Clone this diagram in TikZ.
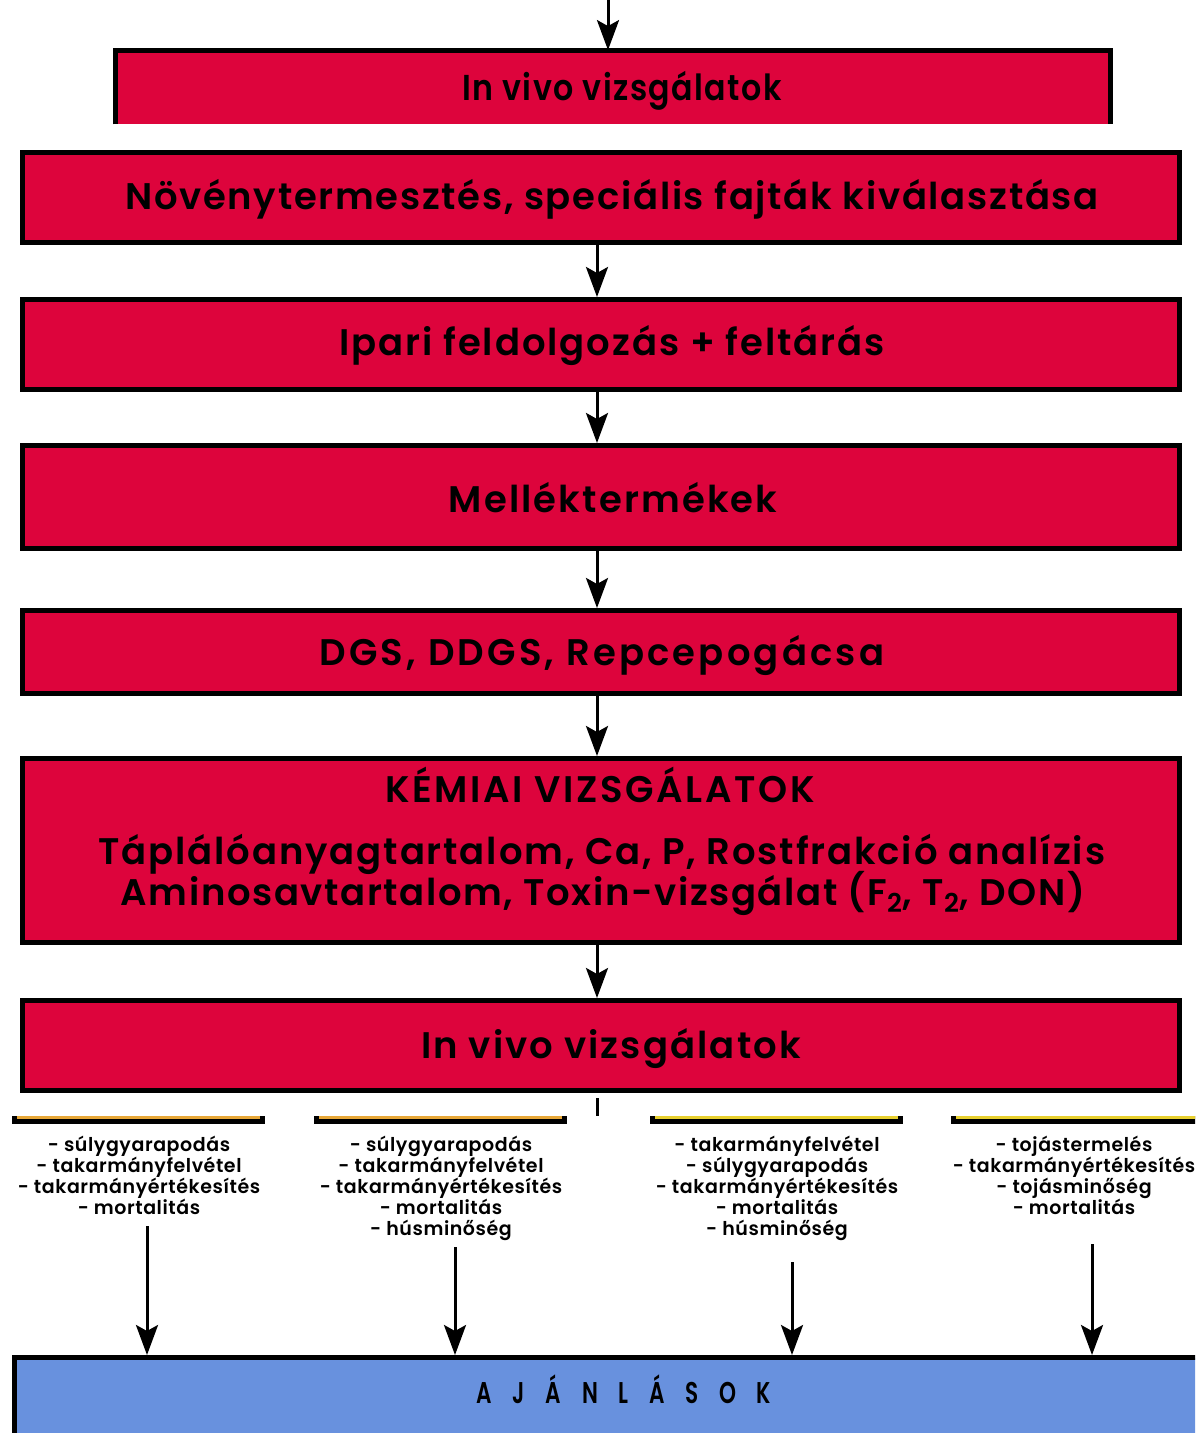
\documentclass[tikz,border=0pt]{standalone}
\usepackage{fontspec}
\setmainfont{Poppins}[BoldFont={Poppins SemiBold}]
\newfontfamily\condfont{Poppins}[FakeStretch=0.72,BoldFont={Poppins SemiBold}]
\newfontfamily\topfont{Poppins}[FakeStretch=0.88,BoldFont={Poppins SemiBold}]
\usetikzlibrary{arrows.meta}
\definecolor{boxred}{RGB}{221,4,60}
\definecolor{boxblue}{RGB}{104,145,222}
\definecolor{barorange}{RGB}{232,168,56}
\definecolor{baryellow}{RGB}{232,208,48}
\newcommand{\lsp}[1]{\addfontfeature{LetterSpace=#1}}
\begin{document}
\begin{tikzpicture}[x=0.5pt,y=-0.5pt,
  redbox/.style={draw=black, line width=2.5pt, fill=boxred, minimum width=578.5pt,
    inner sep=0pt},
  bigtext/.style={inner sep=0pt, font=\bfseries\fontsize{18.5}{22}\selectfont, anchor=base},
  arr/.style={line width=1.5pt, -{Stealth[length=15pt,width=11pt,inset=3pt]}},
  listtext/.style={align=center, font=\bfseries\fontsize{9.5}{10.4}\selectfont\lsp{3},
    anchor=north, inner sep=0pt},
  barblack/.style={fill=black}]
\clip (0,0) rectangle (1195,1433);
\fill[white] (0,0) rectangle (1195,1433);
% top cut box
\node[fill=boxred, minimum width=497.5pt, minimum height=36.75pt, inner sep=0pt]
  (top) at (613,87.25) {};
\draw[line width=2.5pt] (top.south west) -- (top.north west) -- (top.north east) -- (top.south east);
\node[inner sep=0pt, font=\topfont\bfseries\fontsize{18}{20}\selectfont\lsp{4}, anchor=base]
  (toptext) at (622,101) {In vivo vizsgálatok};
\coordinate (t0) at (608,0);
\draw[arr] (t0) -- (t0 |- top.north);
% main boxes
\node[redbox, minimum height=45pt] (b2) at (601,197.5) {};
\node[bigtext] (b2t) at (612,210) {\lsp{4.6}Növénytermesztés, speciális fajták kiválasztása};
\node[redbox, minimum height=45pt] (b3) at (601,344.5) {};
\node[bigtext] (b3t) at (612,356) {\lsp{5.2}Ipari feldolgozás + feltárás};
\node[redbox, minimum height=51.5pt] (b4) at (601,497) {};
\node[bigtext] (b4t) at (613,512) {\lsp{5.8}Melléktermékek};
\node[redbox, minimum height=41.5pt] (b5) at (601,652) {};
\node[bigtext] (b5t) at (602,665) {\lsp{8.6}DGS, DDGS, Repcepogácsa};
\node[redbox, minimum height=92pt] (b6) at (601,850.5) {};
\node[bigtext] (k1) at (600,802) {\lsp{7.2}KÉMIAI VIZSGÁLATOK};
\node[bigtext] (k2) at (602,864) {\lsp{5}Táplálóanyagtartalom, Ca, P, Rostfrakció analízis};
\node[bigtext] (k3) at (603,905) {\lsp{4.3}Aminosavtartalom, Toxin-vizsgálat (F\textsubscript{2}, T\textsubscript{2}, DON)};
\node[redbox, minimum height=45pt] (b7) at (601,1045.5) {};
\node[bigtext] (b7t) at (611,1058) {\lsp{5.7}In vivo vizsgálatok};
% arrows between boxes
\coordinate (ax) at (597,0);
\draw[arr] (b2.south -| ax) -- (b3.north -| ax);
\draw[arr] (b3.south -| ax) -- (b4.north -| ax);
\draw[arr] (b4.south -| ax) -- (b5.north -| ax);
\draw[arr] (b5.south -| ax) -- (b6.north -| ax);
\draw[arr] (b6.south -| ax) -- (b7.north -| ax);
\coordinate (tk1) at (597,1098);
\coordinate (tk2) at (597,1116);
\draw[line width=1.5pt] (tk1) -- (tk2);
% bars
\fill[barblack] (12,1116) rectangle (265,1124);
\fill[barorange] (17,1116) rectangle (260,1119);
\fill[barblack] (314,1116) rectangle (567,1124);
\fill[barorange] (319,1116) rectangle (562,1119);
\fill[barblack] (650,1116) rectangle (903,1124);
\fill[baryellow] (655,1116) rectangle (898,1119);
\fill[barblack] (951,1116) rectangle (1200,1124);
\fill[baryellow] (956,1116) rectangle (1200,1119);
% lists
\node[listtext] (l1) at (139,1136) {- súlygyarapodás\\- takarmányfelvétel\\- takarmányértékesítés\\- mortalitás};
\node[listtext] (l2) at (441,1136) {- súlygyarapodás\\- takarmányfelvétel\\- takarmányértékesítés\\- mortalitás\\- húsminőség};
\node[listtext] (l3) at (777,1136) {- takarmányfelvétel\\- súlygyarapodás\\- takarmányértékesítés\\- mortalitás\\- húsminőség};
\node[listtext] (l4) at (1074,1136) {- tojástermelés\\- takarmányértékesítés\\- tojásminőség\\- mortalitás};
% bottom box
\node[draw=black, line width=2.5pt, fill=boxblue, minimum width=640pt, minimum height=60pt, inner sep=0pt, anchor=north west]
  (aj) at (12,1355) {};
\node[inner sep=0pt, anchor=base, font=\condfont\bfseries\fontsize{15}{16}\selectfont\lsp{69}]
  (ajt) at (624,1403) {AJÁNLÁSOK};
% bottom arrows
\coordinate (s1) at (147,1226);
\coordinate (s2) at (455,1247);
\coordinate (s3) at (792,1262);
\coordinate (s4) at (1092,1244);
\draw[arr] (s1) -- (s1 |- aj.north);
\draw[arr] (s2) -- (s2 |- aj.north);
\draw[arr] (s3) -- (s3 |- aj.north);
\draw[arr] (s4) -- (s4 |- aj.north);
\end{tikzpicture}
\end{document}
